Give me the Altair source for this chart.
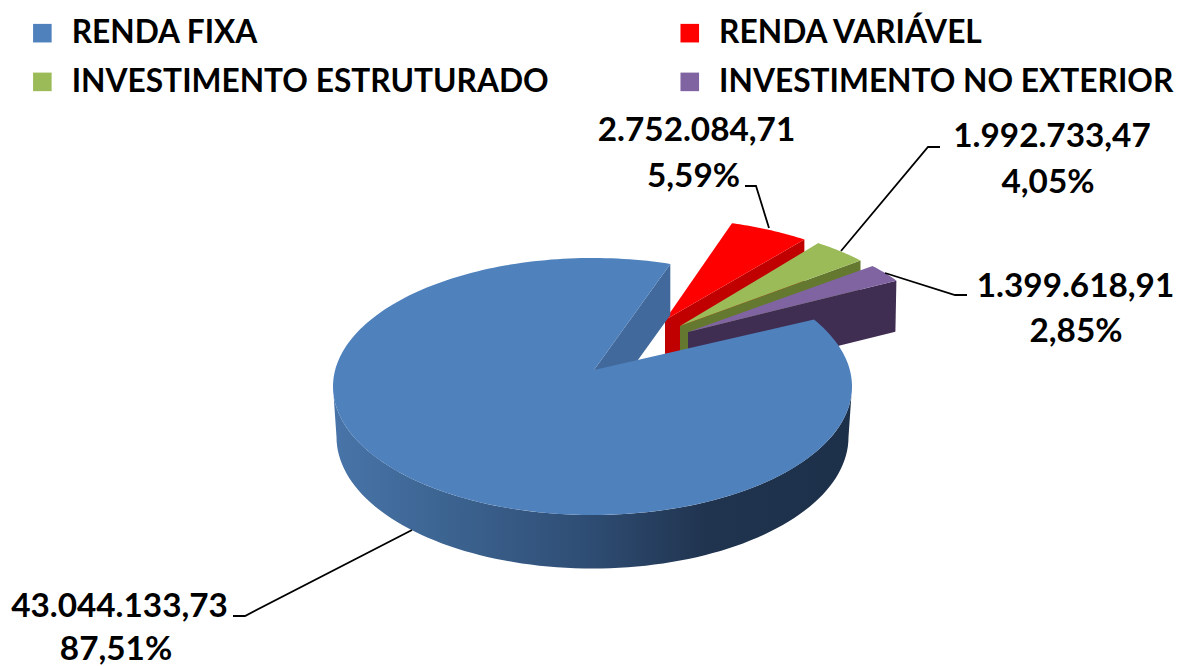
import math
import altair as alt

# ---- data
SERIES = ["RENDA FIXA", "RENDA VARIÁVEL", "INVESTIMENTO ESTRUTURADO", "INVESTIMENTO NO EXTERIOR"]
VALUES = [43044133.73, 2752084.71, 1992733.47, 1399618.91]
PERCENTS = [87.51, 5.59, 4.05, 2.85]
COLORS = ["#4f81bd", "#ff0000", "#9bbb59", "#8064a2"]
SIDE_COLORS = ["#41699b", "#c00000", "#64792f", "#3f2d52"]
LEGEND_ORDER = [0, 2, 1, 3]  # legend fills column by column

# ---- layout of the tilted pie (page pixels)
OFF = 8
# the page shrinks the 1175-wide svg to the 1167 px body and centres it vertically
S = 1175 / 1167
SVG_H = 662
OFF_Y = OFF + SVG_H * (1 - 1 / S) / 2
FIRST_ANGLE = 60.0
BLUE_CENTER, BLUE_A, BLUE_B = (592.5, 386.5), 259.5, 128.5
BLUE_LOW_CENTER, BLUE_LOW_A, BLUE_LOW_B = (592.5, 437.0), 256.0, 131.5
BLUE_APEX = (594.0, 370.0)
DEPTH = 51.0
EXPLODED_A, EXPLODED_B = 250.0, 112.0
EXPLODED_CENTER = [(657.0, 330.0), (671.0, 333.6), (683.0, 339.0)]
EXPLODED_APEX = [(665.0, 320.0), (680.0, 326.0), (688.0, 332.0)]

LEADERS = [
    [(412, 530), (245, 616), (233, 616)],
    [(769, 228), (756, 186), (745, 186)],
    [(841, 251), (928, 147), (940, 147)],
    [(885, 273), (955, 295), (967, 295)],
]
LABEL_POS = [
    ((119.5, 617), (116, 660)),
    ((696.5, 141), (693.5, 187)),
    ((1052, 147), (1048, 193)),
    ((1075.5, 297), (1076, 342)),
]
FONT = "Lato"


def px(x, y):
    return [(x - OFF) * S, (y - OFF_Y) * S]


def warp(theta):
    return theta + 2.8 * math.cos(math.radians(2 * theta))


def ell(center, a, b, t):
    r = math.radians(t)
    return (center[0] + a * math.sin(r), center[1] - b * math.cos(r))


def arc(center, a, b, t0, t1, n=90):
    return [ell(center, a, b, t0 + (t1 - t0) * i / n) for i in range(n + 1)]


def feature(points, serie=None):
    ring = [px(x, y) for x, y in points]
    ring.append(ring[0])
    return {
        "type": "Feature",
        "geometry": {"type": "Polygon", "coordinates": [ring]},
        "properties": {"serie": serie or ""},
    }


def br(value):
    s = f"{value:,.2f}"
    return s.replace(",", "#").replace(".", ",").replace("#", ".")


total = sum(VALUES)
sweeps = [v / total * 360 for v in VALUES]
starts = []
cur = FIRST_ANGLE
for s in sweeps:
    starts.append(cur)
    cur += s

color_scale = alt.Scale(domain=[SERIES[i] for i in LEGEND_ORDER], range=[COLORS[i] for i in LEGEND_ORDER])
legend = alt.Legend(
    title=None,
    orient="none",
    legendX=18.5 * S,
    legendY=7 * S,
    columns=2,
    columnPadding=125 * S,
    rowPadding=16 * S,
    symbolType="square",
    symbolSize=345 * S * S,
    symbolStrokeWidth=0,
    symbolOpacity=1,
    labelFont=FONT,
    labelFontWeight="bold",
    labelFontSize=31.7 * S,
    labelColor="black",
    labelOffset=13.5 * S,
    labelLimit=700,
)
projection = alt.Projection(type="identity", scale=1, translate=[0, 0])


def top_layer(points, i):
    return (
        alt.Chart(alt.Data(values=[feature(points, SERIES[i])]))
        .mark_geoshape(strokeWidth=0, stroke=None)
        .encode(color=alt.Color("properties.serie:N", scale=color_scale, legend=legend))
        .project(**projection.to_dict())
    )


def side_layer(points, fill):
    return (
        alt.Chart(alt.Data(values=[feature(points)]))
        .mark_geoshape(strokeWidth=0, stroke=None, fill=fill, filled=True)
        .project(**projection.to_dict())
    )


layers = []

# exploded slices, back to front
for k in range(1, 4):
    j = k - 1
    t0, t1 = warp(starts[k] % 360), warp((starts[k] + sweeps[k]) % 360)
    apex = EXPLODED_APEX[j]
    outer = arc(EXPLODED_CENTER[j], EXPLODED_A, EXPLODED_B, t0, t1, 30)
    end = outer[-1]
    layers.append(side_layer([apex, end, (end[0] - (1 if k == 3 else 0), end[1] + DEPTH),
                              (apex[0], apex[1] + DEPTH)], SIDE_COLORS[k]))
    layers.append(top_layer([apex] + outer, k))

# large slice: rim, cut face, top
rim_top = arc(BLUE_CENTER, BLUE_A, BLUE_B, 90, 270)
rim_low = arc(BLUE_LOW_CENTER, BLUE_LOW_A, BLUE_LOW_B, 270, 90)
rim_fill = alt.LinearGradient(
    gradient="linear", x1=0, x2=1, y1=0, y2=0,
    stops=[
        alt.GradientStop(offset=0.0, color="#4874a9"),
        alt.GradientStop(offset=0.18, color="#3e6795"),
        alt.GradientStop(offset=0.48, color="#2f4e75"),
        alt.GradientStop(offset=0.72, color="#20344f"),
        alt.GradientStop(offset=1.0, color="#1c304a"),
    ],
)
layers.append(side_layer(rim_top + rim_low, rim_fill))

blue_t0 = warp(starts[0])
blue_t1 = warp((starts[0] + sweeps[0]) % 360) + 360
blue_arc = arc(BLUE_CENTER, BLUE_A, BLUE_B, blue_t0, blue_t1, 240)
corner = blue_arc[-1]
layers.append(side_layer([BLUE_APEX, corner, (corner[0], corner[1] + DEPTH),
                          (BLUE_APEX[0], BLUE_APEX[1] + DEPTH)], SIDE_COLORS[0]))
layers.append(top_layer([BLUE_APEX] + blue_arc, 0))

# leader lines
leader_rows = []
for i, pts in enumerate(LEADERS):
    for s, (x, y) in enumerate(pts):
        X, Y = px(x, y)
        leader_rows.append({"line": i, "step": s, "x": X, "y": Y})
layers.append(
    alt.Chart(alt.Data(values=leader_rows))
    .mark_line(color="black", strokeWidth=1.8)
    .encode(
        x=alt.X("x:Q", scale=None, axis=None),
        y=alt.Y("y:Q", scale=None, axis=None),
        detail="line:N",
        order="step:Q",
    )
)

# data labels
label_rows = []
for i in range(4):
    (x1, y1), (x2, y2) = LABEL_POS[i]
    X1, Y1 = px(x1, y1)
    X2, Y2 = px(x2, y2)
    label_rows.append({"t": br(VALUES[i]), "x": X1, "y": Y1})
    label_rows.append({"t": f"{PERCENTS[i]:.2f}".replace(".", ",") + "%", "x": X2, "y": Y2})
layers.append(
    alt.Chart(alt.Data(values=label_rows))
    .mark_text(font=FONT, fontWeight="bold", fontSize=33.3 * S, color="black", align="center", baseline="alphabetic")
    .encode(
        x=alt.X("x:Q", scale=None, axis=None),
        y=alt.Y("y:Q", scale=None, axis=None),
        text="t:N",
    )
)

chart = (
    alt.layer(*layers)
    .properties(width=1175, height=SVG_H, padding=0, autosize=alt.AutoSizeParams(type="none"),
                background="white")
    .configure_view(stroke=None)
)
chart.save("out.html", embed_options={"renderer": "svg", "actions": False})
